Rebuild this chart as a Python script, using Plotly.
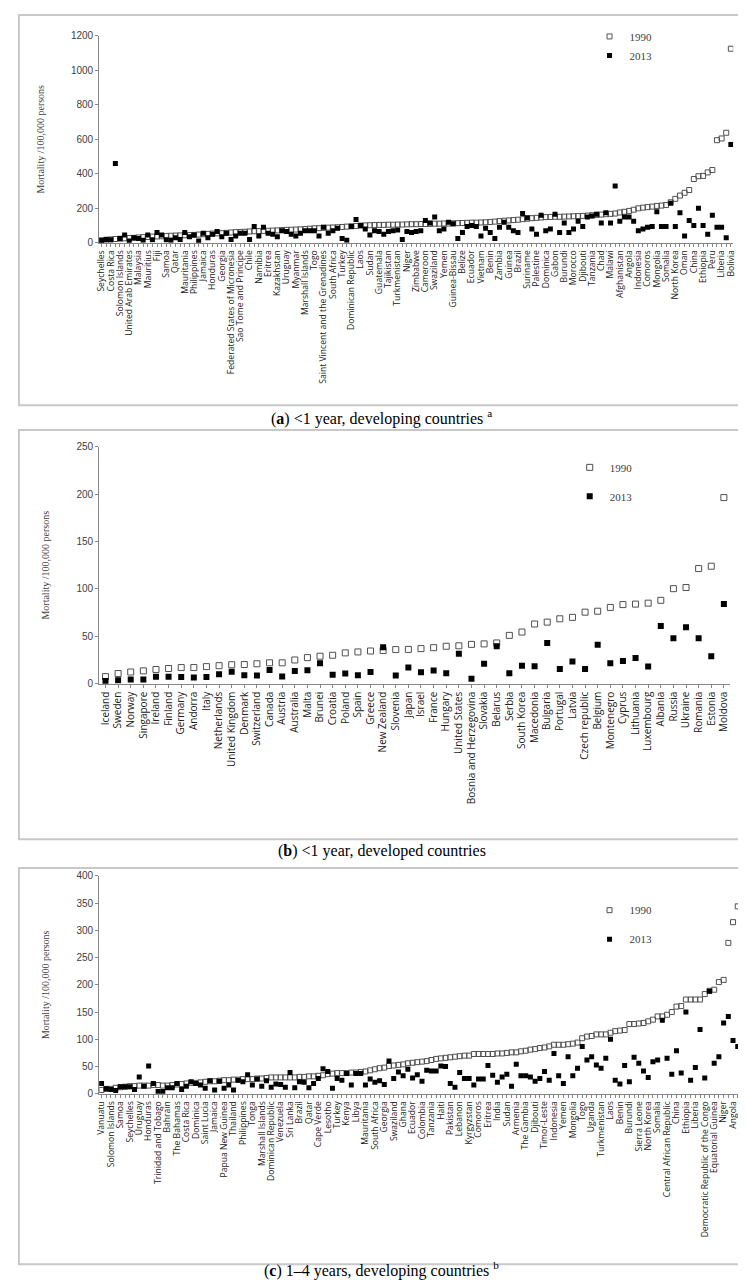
import plotly.graph_objects as go

# ---- panel (a): <1 year, developing countries (137 countries, every 2nd labelled)
labels_a = ["Seychelles", "Costa Rica", "Solomon Islands", "United Arab Emirates", "Malaysia",
            "Mauritius", "Fiji", "Samoa", "Qatar", "Mauritania", "Philippines", "Jamaica",
            "Honduras", "Georgia", "Federated States of Micronesia", "Sao Tome and Principe",
            "Chile", "Namibia", "Eritrea", "Kazakhstan", "Uruguay", "Myanmar", "Marshall Islands",
            "Togo", "Saint Vincent and the Grenadines", "South Africa", "Turkey",
            "Dominican Republic", "Laos", "Sudan", "Guatemala", "Tajikistan", "Turkmenistan",
            "Niger", "Zimbabwe", "Cameroon", "Swaziland", "Yemen", "Guinea-Bissau", "Belize",
            "Ecuador", "Vietnam", "Benin", "Zambia", "Guinea", "Brazil", "Suriname", "Palestine",
            "Dominica", "Gabon", "Burundi", "Morocco", "Djibouti", "Tanzania", "Chad", "Malawi",
            "Afghanistan", "Angola", "Indonesia", "Comoros", "Mongolia", "Somalia", "North Korea",
            "Oman", "China", "Ethiopia", "Peru", "Liberia", "Bolivia"]

a_1990 = [15, 18, 20, 22, 24, 26, 28, 29, 31, 33,
          34, 36, 37, 38, 40, 41, 42, 43, 44, 45,
          46, 48, 50, 52, 54, 55, 56, 58, 60, 62,
          63, 64, 66, 67, 68, 69, 70, 71, 72, 74,
          75, 76, 77, 78, 80, 82, 84, 85, 87, 88,
          89, 90, 92, 94, 96, 98, 100, 101, 102, 103,
          104, 104, 105, 105, 106, 106, 107, 108, 108, 109,
          109, 110, 111, 111, 112, 112, 113, 114, 115, 116,
          117, 117, 118, 119, 121, 123, 126, 128, 130, 132,
          134, 137, 140, 143, 145, 147, 149, 150, 151, 151,
          152, 153, 154, 155, 156, 158, 160, 162, 164, 166,
          168, 170, 176, 180, 185, 192, 200, 204, 207, 210,
          214, 216, 219, 235, 255, 274, 290, 306, 370, 386,
          388, 408, 422, 595, 605, 638, 1125]

a_2013 = [14, 20, 18, 460, 25, 45, 10, 30, 25, 15,
          45, 18, 60, 45, 18, 15, 30, 20, 60, 35,
          45, 10, 55, 30, 50, 65, 35, 55, 20, 40,
          55, 55, 20, 95, 40, 90, 55, 50, 35, 70,
          65, 50, 40, 55, 70, 70, 70, 40, 90, 55,
          70, 85, 25, 15, 95, 135, 100, 80, 45, 70,
          65, 50, 65, 70, 75, 20, 65, 60, 65, 70,
          130, 115, 150, 70, 80, 120, 110, 25, 60, 95,
          100, 95, 40, 85, 60, 25, 90, 120, 90, 70,
          60, 170, 145, 80, 50, 160, 70, 80, 165, 60,
          115, 60, 80, 125, 95, 150, 155, 165, 115, 175,
          115, 330, 125, 150, 150, 125, 70, 80, 90, 95,
          180, 95, 95, 230, 95, 175, 40, 130, 100, 200,
          100, 50, 160, 90, 90, 30, 570]

# ---- panel (b): <1 year, developed countries (all labelled)
labels_b = ["Iceland", "Sweden", "Norway", "Singapore", "Ireland", "Finland", "Germany",
            "Andorra", "Italy", "Netherlands", "United Kingdom", "Denmark", "Switzerland",
            "Canada", "Austria", "Australia", "Malta", "Brunei", "Croatia", "Poland", "Spain",
            "Greece", "New Zealand", "Slovenia", "Japan", "Israel", "France", "Hungary",
            "United States", "Bosnia and Herzegovina", "Slovakia", "Belarus", "Serbia",
            "South Korea", "Macedonia", "Bulgaria", "Portugal", "Latvia", "Czech republic",
            "Belgium", "Montenegro", "Cyprus", "Lithuania", "Luxembourg", "Albania", "Russia",
            "Ukraine", "Romania", "Estonia", "Moldova"]

b_1990 = [7.4, 10.7, 12.3, 13.5, 15, 16, 17, 17, 18, 19,
          20, 20.2, 21, 22, 22, 25, 27.5, 29, 30, 32.5,
          33.5, 34.5, 35, 36, 36.2, 37, 38, 39.5, 40, 41.5,
          42, 43, 51, 54.5, 63, 65, 68.5, 70, 75.5, 76.5,
          80.5, 83.5, 84, 85, 88, 100.3, 101.5, 121.5, 124, 196.5]

b_2013 = [2.8, 3.7, 4.3, 4.3, 7.4, 7.4, 7, 6.4, 7, 10,
          12.6, 9, 8.5, 14.5, 7.5, 13.3, 14.2, 21.5, 9.5, 10.7,
          9, 12.3, 38.5, 8.5, 17, 12, 14, 11, 31.5, 5.3,
          21, 39.5, 11, 19, 18.5, 43, 15.5, 23.5, 15.5, 41,
          21.5, 24, 27, 18, 61, 48, 59.5, 48, 29, 84]

# ---- panel (c): 1-4 years, developing countries (136 countries, every 2nd labelled)
labels_c = ["Vanuatu", "Solomon Islands", "Samoa", "Seychelles", "Uruguay", "Honduras",
            "Trinidad and Tobago", "Bahrain", "The Bahamas", "Costa Rica", "Dominica",
            "Saint Lucia", "Jamaica", "Papua New Guinea", "Thailand", "Philippines", "Tonga",
            "Marshall Islands", "Dominican Republic", "Venezuela", "Sri Lanka", "Brazil", "Qatar",
            "Cape Verde", "Lesotho", "Turkey", "Kenya", "Libya", "Mauritania", "South Africa",
            "Georgia", "Swaziland", "Ghana", "Ecuador", "Colombia", "Tanzania", "Haiti",
            "Pakistan", "Lebanon", "Kyrgyzstan", "Comoros", "Eritrea", "India", "Sudan",
            "Armenia", "The Gambia", "Djibouti", "Timor-Leste", "Indonesia", "Yemen", "Mongolia",
            "Togo", "Uganda", "Turkmenistan", "Laos", "Benin", "Burundi", "Sierra Leone",
            "North Korea", "Somalia", "Central African Republic", "China", "Ethiopia", "Liberia",
            "Democratic Republic of the Congo", "Equatorial Guinea", "Niger", "Angola"]

c_1990 = [7, 9, 9, 11, 12, 13, 14, 14, 15, 15,
          15, 16, 16, 15, 15, 16, 17, 18, 19, 20,
          20, 21, 22, 23, 23, 24, 25, 25, 26, 26,
          27, 27, 27, 28, 28, 29, 30, 30, 30, 30,
          30, 30, 31, 31, 32, 32, 33, 34, 36, 37,
          38, 38, 38, 39, 39, 40, 41, 43, 45, 47,
          48, 51, 52, 53, 54, 56, 57, 58, 59, 60,
          62, 64, 65, 66, 67, 68, 69, 70, 70, 73,
          73, 73, 73, 73, 74, 74, 75, 76, 76, 78,
          79, 81, 82, 84, 85, 87, 90, 90, 90, 91,
          92, 94, 102, 105, 106, 109, 109, 109, 112, 115,
          116, 117, 128, 128, 129, 130, 133, 136, 142, 142,
          145, 150, 160, 161, 173, 173, 173, 173, 183, 189,
          191, 205, 209, 277, 315, 344]

c_2013 = [19, 9, 8, 6, 13, 13, 13, 8, 31, 14,
          51, 19, 4, 4, 11, 11, 19, 8, 14, 22,
          19, 16, 10, 24, 7, 23, 10, 16, 7, 25,
          22, 35, 16, 27, 14, 24, 12, 18, 17, 12,
          39, 11, 22, 21, 11, 19, 28, 46, 41, 10,
          28, 25, 37, 16, 37, 37, 16, 27, 21, 24,
          17, 60, 28, 40, 33, 45, 29, 35, 23, 43,
          42, 42, 51, 50, 19, 12, 39, 28, 28, 16,
          27, 27, 52, 34, 21, 31, 36, 14, 54, 33,
          33, 31, 23, 28, 41, 25, 74, 33, 19, 68,
          33, 47, 87, 62, 68, 53, 47, 65, 100, 25,
          18, 52, 22, 67, 56, 42, 30, 59, 62, 135,
          65, 36, 79, 38, 150, 25, 48, 118, 29, 188,
          56, 68, 130, 142, 98, 87]

W, H = 746, 1280
AX = "#868686"
TXT = "#404040"
SERIF = "Liberation Serif, Times New Roman, serif"
SANS = "Open Sans, Noto Sans, sans-serif"
NARROW = "Liberation Sans Narrow, Arial Narrow, Liberation Sans, sans-serif"


def py(p):
    # pixel row from top -> paper y
    return 1 - p / H


def px(p):
    return p / W


panels = [
    dict(labels=labels_a, v90=a_1990, v13=a_2013, step=2, xd=(88, 728), yd=(231, 22),
         yr=1200, dt=200, fs=8.6, ms=5, leg=(583, 8), gap=0),
    dict(labels=labels_b, v90=b_1990, v13=b_2013, step=1, xd=(88, 725), yd=(676, 437),
         yr=250, dt=50, fs=10, ms=6, leg=(563, 443), gap=10),
    dict(labels=labels_c, v90=c_1990, v13=c_2013, step=2, xd=(88, 735), yd=(1090, 870),
         yr=400, dt=50, fs=8.6, ms=5, leg=(583, 890), gap=10),
]

fig = go.Figure()
layout = {}

for k, p in enumerate(panels):
    n = len(p["v90"])
    xs = list(range(n))
    sfx = "" if k == 0 else str(k + 1)
    leg = "legend" + sfx
    fig.add_trace(go.Scatter(
        x=xs, y=p["v90"], mode="markers", name="1990",
        xaxis="x" + sfx, yaxis="y" + sfx, legend=leg, legendgroup="g90" + sfx,
        marker=dict(symbol="square-open", size=p["ms"], color="#505050",
                    line=dict(width=1, color="#505050")),
    ))
    fig.add_trace(go.Scatter(
        x=xs, y=p["v13"], mode="markers", name="2013",
        xaxis="x" + sfx, yaxis="y" + sfx, legend=leg, legendgroup="g13" + sfx,
        marker=dict(symbol="square", size=p["ms"], color="#000000"),
    ))

    # labelled ticks every `step` categories, small minor tick on every category
    tickvals = [i * p["step"] for i in range(len(p["labels"]))]

    layout["xaxis" + sfx] = dict(
        domain=[px(p["xd"][0]), px(p["xd"][1])], anchor="y" + sfx,
        range=[-0.5, n - 0.5], tickmode="array", tickvals=tickvals, ticktext=p["labels"],
        tickangle=-90, ticks="outside", ticklen=3, tickcolor=AX, showline=True,
        linecolor=AX, linewidth=1, showgrid=False, zeroline=False,
        minor=dict(ticks="outside", tick0=0, dtick=1, ticklen=3, tickcolor=AX, showgrid=False),
        tickfont=dict(family=SANS, size=p["fs"], color="#202020"),
    )
    layout["yaxis" + sfx] = dict(
        domain=[py(p["yd"][0]), py(p["yd"][1])], anchor="x" + sfx,
        range=[0, p["yr"]], dtick=p["dt"], showline=True, linecolor=AX, linewidth=1,
        showgrid=False, zeroline=False, ticks="outside", ticklen=3, tickcolor=AX,
        tickfont=dict(family=NARROW, size=10, color=TXT),
        title=dict(text="Mortality /100,000 persons", standoff=24,
                   font=dict(family=SERIF, size=10, color=TXT)),
    )
    layout[leg] = dict(
        x=px(p["leg"][0]), y=py(p["leg"][1]), xanchor="left", yanchor="top",
        bgcolor="rgba(0,0,0,0)", borderwidth=0, itemwidth=30,
        tracegroupgap=p["gap"], font=dict(family=SERIF, size=11, color=TXT),
    )

fig.update_layout(**layout)

# panel frames
for top, bottom in [(1, 395), (420, 833), (862, 1262)]:
    fig.add_shape(type="rect", xref="paper", yref="paper",
                  x0=px(7), x1=px(740), y0=py(bottom), y1=py(top),
                  line=dict(color="#c8c8c8", width=2), fillcolor="rgba(0,0,0,0)")

captions = [
    ("(<b>a</b>) &lt;1 year, developing countries <sup>a</sup>", 407),
    ("(<b>b</b>) &lt;1 year, developed countries", 845),
    ("(<b>c</b>) 1–4 years, developing countries <sup>b</sup>", 1267),
]
for text, y in captions:
    fig.add_annotation(text=text, xref="paper", yref="paper", x=0.5, y=py(y),
                       xanchor="center", yanchor="middle", showarrow=False,
                       font=dict(family=SERIF, size=16, color="#000000"))

fig.update_layout(
    width=W, height=H, margin=dict(l=0, r=0, t=0, b=0),
    paper_bgcolor="white", plot_bgcolor="white", showlegend=True,
)

fig.write_html("out.html")
